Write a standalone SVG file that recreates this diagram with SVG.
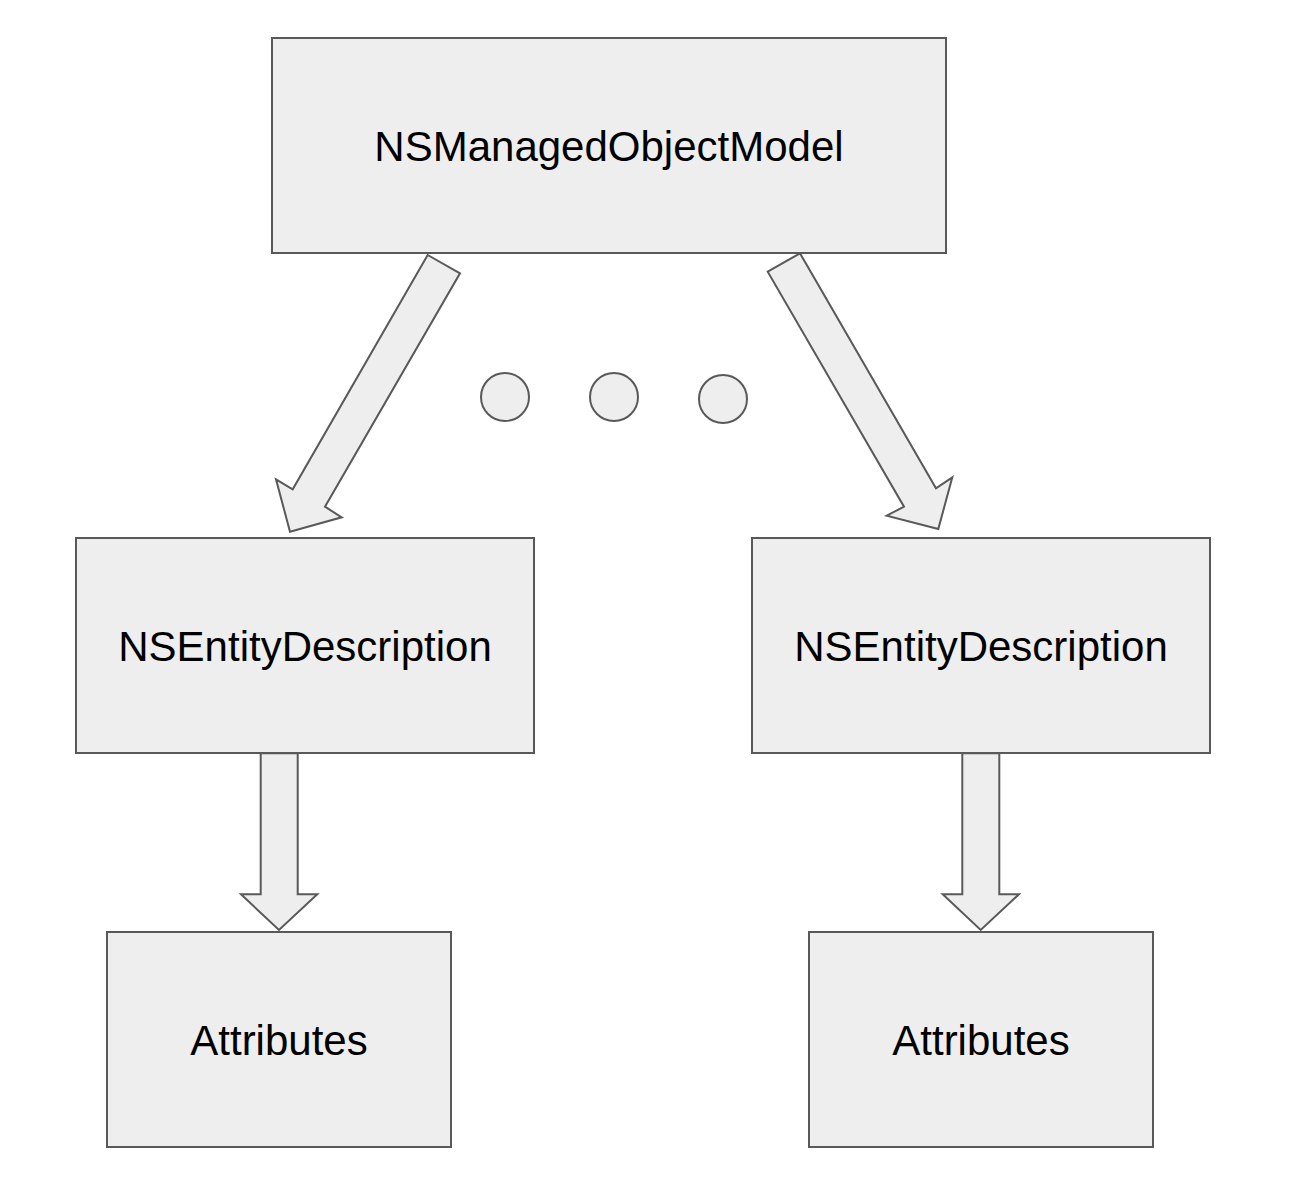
<svg xmlns="http://www.w3.org/2000/svg" width="1308" height="1204" viewBox="0 0 1308 1204">
<style>
.box{fill:#eeeeee;stroke:#595959;stroke-width:2}
.arr{fill:#eeeeee;stroke:#595959;stroke-width:2;stroke-linejoin:miter}
.lbl{font-family:"Liberation Sans",Arial,sans-serif;font-size:42px;fill:#000000;text-anchor:middle}
</style>
<rect width="1308" height="1204" fill="#ffffff"/>
<g id="connectors">
<polygon class="arr" points="427.7,255 460,273.3 325,506.7 341.7,517.3 290,531.7 276,479.3 292.7,489.3"/>
<polygon class="arr" points="800,253.3 767.7,271.7 904,506.7 886.7,515.7 938.3,529 952.3,477.3 936,488.3"/>
<polygon class="arr" points="260.7,753.3 297.7,753.3 297.7,894.3 317.3,894.3 279,930 241,894.3 260.7,894.3"/>
<polygon class="arr" points="962.3,753.3 999.3,753.3 999.3,894.3 1019,894.3 980.7,930 942.7,894.3 962.3,894.3"/>
</g>
<g id="ellipsis">
<circle class="box" cx="505" cy="397" r="24"/>
<circle class="box" cx="614" cy="397" r="24"/>
<circle class="box" cx="723" cy="399" r="24"/>
</g>
<g id="model">
<rect class="box" x="272" y="38" width="674" height="215"/>
<text class="lbl" x="609" y="161">NSManagedObjectModel</text>
</g>
<g id="entity-left">
<rect class="box" x="76" y="538" width="458" height="215"/>
<text class="lbl" x="305" y="661">NSEntityDescription</text>
</g>
<g id="entity-right">
<rect class="box" x="752" y="538" width="458" height="215"/>
<text class="lbl" x="981" y="661">NSEntityDescription</text>
</g>
<g id="attributes-left">
<rect class="box" x="107" y="932" width="344" height="215"/>
<text class="lbl" x="279" y="1055">Attributes</text>
</g>
<g id="attributes-right">
<rect class="box" x="809" y="932" width="344" height="215"/>
<text class="lbl" x="981" y="1055">Attributes</text>
</g>
</svg>
